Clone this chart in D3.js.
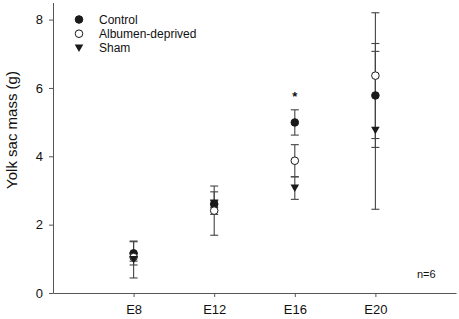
<!DOCTYPE html>
<html lang="en">
  <head>
    <meta charset="utf-8" />
    <title>Yolk sac mass</title>
    <script src="https://d3js.org/d3.v7.min.js"></script>
    <style>
      body {
        margin: 0;
        background: white;
      }
      text {
        font-family: "Liberation Sans", Arial, sans-serif;
        fill: #111;
      }
      .axis path,
      .axis line {
        stroke: #555;
      }
    </style>
  </head>
  <body>
    <svg width="459" height="319"></svg>
    <script type="text/javascript">
      // embryonic day of each sample group
      const days = [8, 12, 16, 20];
      const dayLabels = ["E8", "E12", "E16", "E20"];

      const controlMean = [1.16, 2.6, 4.99, 5.78];
      const controlErr = [0.34, 0.1, 0.37, 1.52];
      const albumenMean = [1.05, 2.41, 3.87, 6.36];
      const albumenErr = [0.12, 0.72, 0.47, 1.84];
      const shamMean = [0.98, 2.63, 3.07, 4.76];
      const shamErr = [0.54, 0.33, 0.33, 2.31];

      const yTicks = [0, 2, 4, 6, 8];
      const seriesNames = ["Control", "Albumen-deprived", "Sham"];
      const significant = [16]; // days flagged with *

      const svg = d3.select("svg");

      const x = d3.scaleLinear().domain([4, 24]).range([53, 456]);
      const y = d3.scaleLinear().domain([0, 8.5]).range([293, 2.5]);

      // axes
      svg
        .append("g")
        .attr("class", "axis")
        .attr("transform", "translate(0,293)")
        .call(
          d3
            .axisBottom(x)
            .tickValues(days)
            .tickFormat((d, i) => dayLabels[i])
            .tickSize(4)
            .tickSizeOuter(0)
            .tickPadding(8)
        )
        .call((g) => g.selectAll("text").attr("font-size", 13).attr("fill", "#111"));

      svg
        .append("g")
        .attr("class", "axis")
        .attr("transform", "translate(53,0)")
        .call(
          d3
            .axisLeft(y)
            .tickValues(yTicks)
            .tickSize(4)
            .tickSizeOuter(0)
            .tickPadding(6)
        )
        .call((g) => g.selectAll("text").attr("font-size", 13).attr("fill", "#111"));

      svg
        .append("text")
        .attr("transform", "translate(17,130) rotate(-90)")
        .attr("text-anchor", "middle")
        .attr("font-size", 15)
        .text("Yolk sac mass (g)");

      const series = [
        { name: seriesNames[0], mean: controlMean, err: controlErr, shape: "filled" },
        { name: seriesNames[1], mean: albumenMean, err: albumenErr, shape: "open" },
        { name: seriesNames[2], mean: shamMean, err: shamErr, shape: "triangle" },
      ];

      const markColour = "#1a1a1a";
      const capHalf = 4;

      function drawMarker(g, shape, cx, cy) {
        if (shape === "triangle") {
          g.append("path")
            .attr("d", `M${cx - 4.3},${cy - 3.5}L${cx + 4.3},${cy - 3.5}L${cx},${cy + 4}Z`)
            .attr("fill", markColour);
        } else {
          g.append("circle")
            .attr("cx", cx)
            .attr("cy", cy)
            .attr("r", 3.8)
            .attr("fill", shape === "filled" ? markColour : "white")
            .attr("stroke", markColour)
            .attr("stroke-width", 1);
        }
      }

      // error bars first, then markers on top
      const bars = svg.append("g").attr("stroke", "#444").attr("stroke-width", 1.1);
      series.forEach((s) => {
        days.forEach((d, i) => {
          const cx = x(d);
          const top = y(s.mean[i] + s.err[i]);
          const bot = y(s.mean[i] - s.err[i]);
          bars.append("line").attr("x1", cx).attr("x2", cx).attr("y1", top).attr("y2", bot);
          [top, bot].forEach((cy) =>
            bars
              .append("line")
              .attr("x1", cx - capHalf)
              .attr("x2", cx + capHalf)
              .attr("y1", cy)
              .attr("y2", cy)
          );
        });
      });

      const marks = svg.append("g");
      series.forEach((s) => {
        days.forEach((d, i) => drawMarker(marks, s.shape, x(d), y(s.mean[i])));
      });

      // significance star
      svg
        .selectAll(".star")
        .data(significant)
        .join("text")
        .attr("class", "star")
        .attr("x", (d) => x(d))
        .attr("y", 101)
        .attr("text-anchor", "middle")
        .attr("font-size", 13)
        .attr("font-weight", "bold")
        .text("*");

      // legend
      const legend = svg.append("g");
      series.forEach((s, i) => {
        const ly = 19.5 + i * 14.2;
        drawMarker(legend, s.shape, 79, ly);
        legend
          .append("text")
          .attr("x", 99)
          .attr("y", ly + 4)
          .attr("font-size", 12)
          .text(s.name);
      });

      svg
        .append("text")
        .attr("x", 417)
        .attr("y", 278)
        .attr("font-size", 11)
        .text("n=6");
    </script>
  </body>
</html>
